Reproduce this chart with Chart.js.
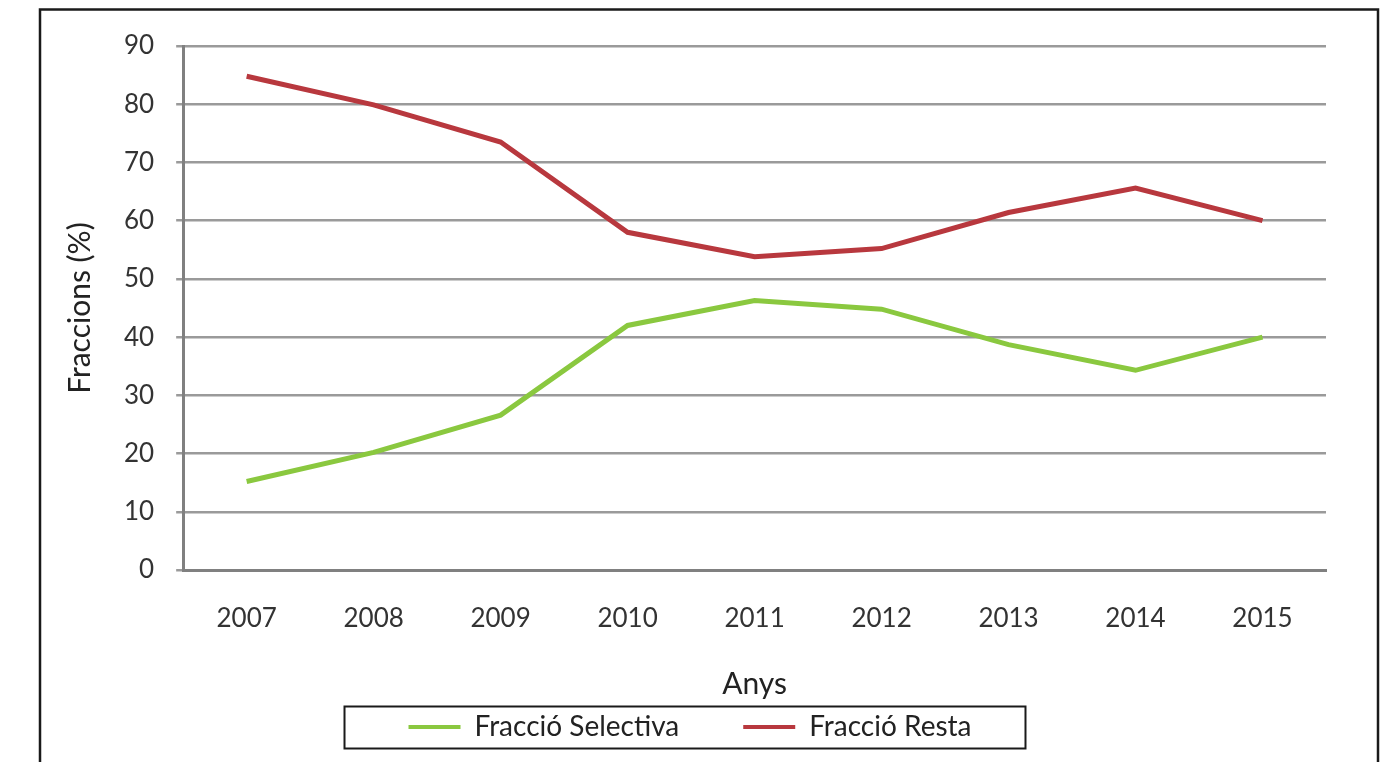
<!DOCTYPE html>
<html>
<head>
<meta charset="utf-8">
<script src="https://cdn.jsdelivr.net/npm/chart.js@4"></script>
<style>
  html, body { margin: 0; padding: 0; background: #ffffff; }
  #wrap { width: 1383px; height: 762px; position: relative; }
</style>
</head>
<body>
<div id="wrap"><canvas id="c" width="1383" height="762"></canvas></div>
<script>
const years = ['2007', '2008', '2009', '2010', '2011', '2012', '2013', '2014', '2015'];
const fraccioSelectiva = [15.2, 20.2, 26.6, 42.0, 46.3, 44.8, 38.7, 34.3, 40.0];
const fraccioResta = [84.8, 79.9, 73.5, 58.0, 53.8, 55.2, 61.4, 65.6, 60.0];
const yTickValues = [0, 10, 20, 30, 40, 50, 60, 70, 80, 90];

const FONT = 'Lato, "Open Sans", sans-serif';

const framePlugin = {
  id: 'frame',
  beforeDraw(chart) {
    const ctx = chart.ctx;
    ctx.save();
    ctx.fillStyle = '#ffffff';
    ctx.fillRect(0, 0, chart.width, chart.height);
    ctx.strokeStyle = '#1a1a1a';
    ctx.lineWidth = 2.5;
    ctx.strokeRect(40, 9.5, 1338, 800);
    ctx.restore();
  },
  afterDraw(chart) {
    const lg = chart.legend;
    if (!lg || !lg.legendHitBoxes || !lg.legendHitBoxes.length) return;
    const boxes = lg.legendHitBoxes;
    let minX = Infinity, maxX = -Infinity, minY = Infinity, maxY = -Infinity;
    boxes.forEach(b => {
      minX = Math.min(minX, b.left); maxX = Math.max(maxX, b.left + b.width);
      minY = Math.min(minY, b.top); maxY = Math.max(maxY, b.top + b.height);
    });
    const ctx = chart.ctx;
    ctx.save();
    ctx.strokeStyle = '#1a1a1a';
    ctx.lineWidth = 2;
    ctx.strokeRect(minX - 64, minY - 6.5, (maxX - minX) + 118, (maxY - minY) + 14);
    ctx.restore();
  }
};

new Chart(document.getElementById('c'), {
  type: 'line',
  data: {
    labels: years,
    datasets: [
      {
        label: 'Fracció Selectiva',
        data: fraccioSelectiva,
        borderColor: '#8AC83F',
        backgroundColor: '#8AC83F',
        borderWidth: 5,
        pointRadius: 0,
        tension: 0,
        fill: false
      },
      {
        label: 'Fracció Resta',
        data: fraccioResta,
        borderColor: '#B8383E',
        backgroundColor: '#B8383E',
        borderWidth: 5,
        pointRadius: 0,
        tension: 0,
        fill: false
      }
    ]
  },
  options: {
    responsive: false,
    animation: false,
    devicePixelRatio: 1,
    layout: { padding: { left: 54, right: 57, top: 46, bottom: 11 } },
    plugins: {
      legend: {
        display: true,
        position: 'bottom',
        labels: {
          boxWidth: 52,
          boxHeight: 4,
          padding: 64,
          color: '#222222',
          font: { family: FONT, size: 28 },
          generateLabels(chart) {
            return chart.data.datasets.map((ds, i) => ({
              text: ds.label,
              fillStyle: ds.borderColor,
              strokeStyle: ds.borderColor,
              lineWidth: 0,
              hidden: false,
              datasetIndex: i,
              fontColor: '#222222'
            }));
          }
        }
      },
      tooltip: { enabled: false },
      title: { display: false }
    },
    scales: {
      x: {
        offset: true,
        grid: { display: false, drawTicks: false },
        border: { display: true, color: '#808080', width: 3 },
        ticks: {
          color: '#333333',
          font: { family: FONT, size: 26 },
          padding: 33.4,
          maxRotation: 0
        },
        title: {
          display: true,
          text: 'Anys',
          color: '#222222',
          font: { family: FONT, size: 30 },
          padding: { top: -2, bottom: -53 }
        }
      },
      y: {
        min: 0,
        max: 90,
        afterBuildTicks(scale) { scale.ticks = yTickValues.map(v => ({ value: v })); },
        grid: { color: '#9a9a9a', lineWidth: 2.5, tickLength: 7, drawTicks: true },
        border: { display: true, color: '#808080', width: 3 },
        ticks: {
          color: '#333333',
          font: { family: FONT, size: 26 },
          padding: 22
        },
        title: {
          display: true,
          text: 'Fraccions (%)',
          color: '#222222',
          font: { family: FONT, size: 30 },
          padding: { top: 8, bottom: 4 }
        }
      }
    }
  },
  plugins: [framePlugin]
});
</script>
</body>
</html>
